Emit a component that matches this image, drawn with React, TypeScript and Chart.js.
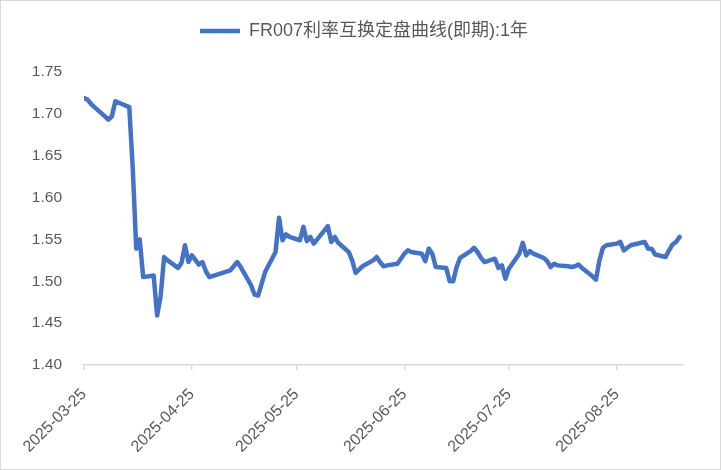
import { useEffect, useRef } from "react";
import { Chart, registerables } from "chart.js";

Chart.register(...registerables);

const seriesLabel = "FR007利率互换定盘曲线(即期):1年";

// trading days and 1y swap fixing values
const dates = [
  "2025-03-25", "2025-03-26", "2025-03-27", "2025-03-28", "2025-03-31",
  "2025-04-01", "2025-04-02", "2025-04-03", "2025-04-07", "2025-04-08",
  "2025-04-09", "2025-04-10", "2025-04-11", "2025-04-14", "2025-04-15",
  "2025-04-16", "2025-04-17", "2025-04-18", "2025-04-21", "2025-04-22",
  "2025-04-23", "2025-04-24", "2025-04-25", "2025-04-27", "2025-04-28",
  "2025-04-29", "2025-04-30", "2025-05-06", "2025-05-07", "2025-05-08",
  "2025-05-09", "2025-05-12", "2025-05-13", "2025-05-14", "2025-05-15",
  "2025-05-16", "2025-05-19", "2025-05-20", "2025-05-21", "2025-05-22",
  "2025-05-23", "2025-05-26", "2025-05-27", "2025-05-28", "2025-05-29",
  "2025-05-30", "2025-06-03", "2025-06-04", "2025-06-05", "2025-06-06",
  "2025-06-09", "2025-06-10", "2025-06-11", "2025-06-12", "2025-06-13",
  "2025-06-16", "2025-06-17", "2025-06-18", "2025-06-19", "2025-06-20",
  "2025-06-23", "2025-06-24", "2025-06-25", "2025-06-26", "2025-06-27",
  "2025-06-30", "2025-07-01", "2025-07-02", "2025-07-03", "2025-07-04",
  "2025-07-07", "2025-07-08", "2025-07-09", "2025-07-10", "2025-07-11",
  "2025-07-14", "2025-07-15", "2025-07-16", "2025-07-17", "2025-07-18",
  "2025-07-21", "2025-07-22", "2025-07-23", "2025-07-24", "2025-07-25",
  "2025-07-28", "2025-07-29", "2025-07-30", "2025-07-31", "2025-08-01",
  "2025-08-04", "2025-08-05", "2025-08-06", "2025-08-07", "2025-08-08",
  "2025-08-11", "2025-08-12", "2025-08-13", "2025-08-14", "2025-08-15",
  "2025-08-18", "2025-08-19", "2025-08-20", "2025-08-21", "2025-08-22",
  "2025-08-25", "2025-08-26", "2025-08-27", "2025-08-28", "2025-08-29",
  "2025-09-01", "2025-09-02", "2025-09-03", "2025-09-04", "2025-09-05",
  "2025-09-08", "2025-09-09", "2025-09-10", "2025-09-11", "2025-09-12",
];

const rates = [
  1.719, 1.717, 1.712, 1.708, 1.697,
  1.693, 1.697, 1.715, 1.708, 1.635,
  1.539, 1.550, 1.505, 1.507, 1.459,
  1.482, 1.529, 1.525, 1.516, 1.522,
  1.543, 1.523, 1.531, 1.520, 1.523,
  1.512, 1.505, 1.513, 1.518, 1.523,
  1.517, 1.495, 1.484, 1.483, 1.497,
  1.511, 1.535, 1.576, 1.549, 1.556,
  1.553, 1.549, 1.565, 1.548, 1.553,
  1.545, 1.566, 1.547, 1.553, 1.546,
  1.535, 1.525, 1.510, 1.514, 1.518,
  1.525, 1.529, 1.523, 1.518, 1.519,
  1.521, 1.527, 1.533, 1.537, 1.535,
  1.533, 1.524, 1.539, 1.533, 1.517,
  1.516, 1.500, 1.500, 1.517, 1.528,
  1.536, 1.540, 1.535, 1.528, 1.523,
  1.527, 1.516, 1.519, 1.503, 1.515,
  1.533, 1.546, 1.531, 1.536, 1.533,
  1.528, 1.524, 1.517, 1.521, 1.519,
  1.518, 1.517, 1.518, 1.520, 1.516,
  1.506, 1.502, 1.525, 1.540, 1.543,
  1.545, 1.547, 1.537, 1.540, 1.543,
  1.546, 1.547, 1.539, 1.539, 1.532,
  1.529, 1.537, 1.544, 1.547, 1.553,
];

const tickDates = [
  "2025-03-25", "2025-04-25", "2025-05-25",
  "2025-06-25", "2025-07-25", "2025-08-25",
];
const startDate = "2025-03-25";
const endDate = "2025-09-13";

const yMin = 1.4;
const yMax = 1.75;
const yStep = 0.05;

const fontFamily = "'Liberation Sans', 'Noto Sans CJK SC', sans-serif";
const textColor = "#595959";
const lineColor = "#4472C4";
const axisColor = "#D9D9D9";

const dayNo = (d: string) =>
  Math.round((Date.parse(d) - Date.parse(startDate)) / 86400000);

// extra space under the legend, and legend moved a bit to the right
const legendTweak = {
  id: "legendTweak",
  beforeInit(chart: any) {
    const fit = chart.legend.fit;
    chart.legend.fit = function () {
      fit.call(this);
      this.height += 22;
    };
  },
  afterLayout(chart: any) {
    chart.legend.left += 44;
  },
};

export default function App() {
  const canvasRef = useRef<HTMLCanvasElement | null>(null);
  const chartRef = useRef<Chart | null>(null);

  useEffect(() => {
    if (!canvasRef.current) return;
    if (chartRef.current) chartRef.current.destroy();

    chartRef.current = new Chart(canvasRef.current, {
      type: "line",
      data: {
        datasets: [
          {
            label: seriesLabel,
            data: dates.map((d, i) => ({ x: dayNo(d), y: rates[i] })),
            borderColor: lineColor,
            backgroundColor: lineColor,
            borderWidth: 4.5,
            borderCapStyle: "round",
            borderJoinStyle: "round",
            pointRadius: 0,
            tension: 0,
            fill: false,
          },
        ],
      },
      options: {
        animation: false,
        responsive: false,
        layout: { padding: { top: 11, right: 37, bottom: 0, left: 0 } },
        plugins: {
          legend: {
            position: "top",
            labels: {
              usePointStyle: true,
              pointStyle: "line",
              pointStyleWidth: 40,
              padding: 10,
              color: textColor,
              font: { family: fontFamily, size: 18 },
            },
          },
          tooltip: { enabled: false },
        },
        scales: {
          x: {
            type: "linear",
            min: 0,
            max: dayNo(endDate),
            afterBuildTicks: (axis: any) => {
              axis.ticks = tickDates.map((d) => ({ value: dayNo(d) }));
            },
            afterFit: (axis: any) => {
              axis.height = 104;
            },
            grid: {
              drawOnChartArea: false,
              drawTicks: true,
              tickLength: 5,
              color: axisColor,
              lineWidth: 1.5,
            },
            border: { color: axisColor, width: 1.5 },
            ticks: {
              autoSkip: false,
              minRotation: 45,
              maxRotation: 45,
              padding: 15,
              color: textColor,
              font: { family: fontFamily, size: 16 },
              callback: (value: any) =>
                tickDates.find((d) => dayNo(d) === value) ?? "",
            },
          },
          y: {
            min: yMin,
            max: yMax,
            afterFit: (axis: any) => {
              axis.width = 83;
            },
            grid: { display: false, drawTicks: false },
            border: { display: false },
            ticks: {
              stepSize: yStep,
              padding: 22,
              color: textColor,
              font: { family: fontFamily, size: 15.5 },
              callback: (value: any) => Number(value).toFixed(2),
            },
          },
        },
      },
      plugins: [legendTweak],
    } as any);

    return () => {
      if (chartRef.current) {
        chartRef.current.destroy();
        chartRef.current = null;
      }
    };
  }, []);

  return (
    <div
      style={{
        position: "absolute",
        left: 0,
        top: 0,
        width: 721,
        height: 470,
        boxSizing: "border-box",
        border: `1px solid ${axisColor}`,
        background: "#fff",
      }}
    >
      <canvas ref={canvasRef} width={719} height={468} style={{ display: "block" }} />
    </div>
  );
}
